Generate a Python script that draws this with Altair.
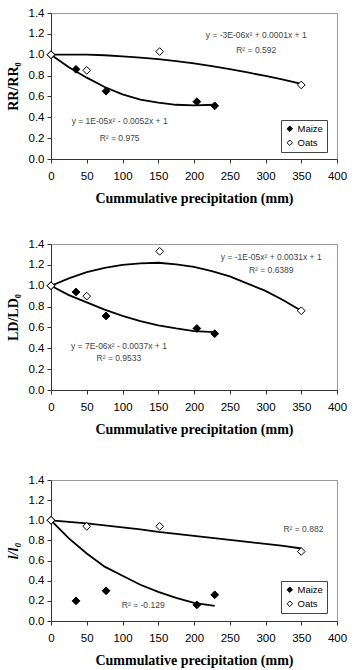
import altair as alt
import pandas as pd

# ---- data ----
x_maize = [0, 35, 77, 204, 229]
x_oats = [0, 50, 152, 350]

rr_maize = [1.0, 0.86, 0.65, 0.55, 0.51]
rr_oats = [1.0, 0.85, 1.03, 0.71]
ld_maize = [1.0, 0.94, 0.71, 0.59, 0.54]
ld_oats = [1.0, 0.90, 1.33, 0.76]
ll_maize = [1.0, 0.20, 0.30, 0.16, 0.26]
ll_oats = [1.0, 0.94, 0.94, 0.69]

# trend-line positions
trend_x_maize = [0, 25, 50, 75, 100, 125, 150, 175, 200, 229]
trend_x_oats = [0, 25, 50, 75, 100, 125, 150, 175, 200, 225, 250, 275, 300, 325, 350]

rr_maize_trend = [1.0, 0.88, 0.78, 0.69, 0.62, 0.57, 0.54, 0.52, 0.515, 0.52]
rr_oats_trend = [1.0, 1.0, 1.0, 0.995, 0.985, 0.972, 0.957, 0.938, 0.916, 0.89,
                 0.862, 0.83, 0.796, 0.76, 0.72]
ld_maize_trend = [1.0, 0.91, 0.84, 0.77, 0.71, 0.66, 0.62, 0.59, 0.565, 0.555]
ld_oats_trend = [1.0, 1.07, 1.13, 1.17, 1.20, 1.215, 1.22, 1.205, 1.18, 1.14,
                 1.09, 1.02, 0.95, 0.86, 0.76]
ll_maize_trend = [1.0, 0.82, 0.67, 0.54, 0.45, 0.36, 0.29, 0.23, 0.18, 0.15]
ll_oats_trend = [1.0, 0.985, 0.97, 0.95, 0.93, 0.91, 0.885, 0.865, 0.845, 0.825,
                 0.805, 0.785, 0.765, 0.745, 0.72]

notes1_label = ["y = -3E-06x² + 0.0001x + 1", "R² = 0.592", "y = 1E-05x² - 0.0052x + 1", "R² = 0.975"]
notes1_x = [287, 287, 96, 96]
notes1_y = [1.19, 1.05, 0.365, 0.20]
notes2_label = ["y = -1E-05x² + 0.0031x + 1", "R² = 0.6389", "y = 7E-06x² - 0.0037x + 1", "R² = 0.9533"]
notes2_x = [308, 308, 95, 95]
notes2_y = [1.28, 1.15, 0.42, 0.31]
notes3_label = ["R² = 0.882", "R² = -0.129"]
notes3_x = [353, 129]
notes3_y = [0.91, 0.16]

x_ticks = [0, 50, 100, 150, 200, 250, 300, 350, 400]
y_ticks = [0, 0.2, 0.4, 0.6, 0.8, 1.0, 1.2, 1.4]
x_title = "Cummulative precipitation (mm)"
crops = ["Maize", "Oats"]


def panel(maize_y, oats_y, maize_trend, oats_trend, ytitle, italic,
          nl, nx, ny, legend_y, height):
    pts = pd.DataFrame({
        "x": x_maize + x_oats,
        "y": maize_y + oats_y,
        "crop": [crops[0]] * len(x_maize) + [crops[1]] * len(x_oats),
    })
    trend = pd.DataFrame({
        "x": trend_x_maize + trend_x_oats,
        "y": maize_trend + oats_trend,
        "crop": [crops[0]] * len(trend_x_maize) + [crops[1]] * len(trend_x_oats),
    })
    notes = pd.DataFrame({"label": nl, "x": nx, "y": ny})

    xenc = alt.X("x:Q", scale=alt.Scale(domain=[0, 400], nice=False),
                 axis=alt.Axis(values=x_ticks, title=x_title, labelOverlap=False,
                               labelFlush=False))
    yaxis_kw = dict(values=y_ticks, format=".1f", title=ytitle, labelOverlap=False,
                    labelFlush=False)
    if italic:
        yaxis_kw["titleFontStyle"] = "italic"
    yenc = alt.Y("y:Q", scale=alt.Scale(domain=[0, 1.4], nice=False),
                 axis=alt.Axis(**yaxis_kw))

    lines = alt.Chart(trend).mark_line(color="black", strokeWidth=1.8).encode(
        x=xenc, y=yenc, detail="crop:N")
    points = alt.Chart(pts).mark_point(
        shape="diamond", size=60, filled=True, stroke="black",
        strokeWidth=1, opacity=1).encode(
        x=xenc, y=yenc,
        fill=alt.Fill("crop:N",
                      scale=alt.Scale(domain=crops, range=["black", "white"]),
                      legend=alt.Legend(
                          title=None, orient="none", legendX=230, legendY=legend_y,
                          strokeColor="#444", fillColor="white", padding=4,
                          labelFont="Liberation Sans", labelFontSize=9.5,
                          symbolType="diamond", symbolStrokeColor="black",
                          symbolStrokeWidth=1, symbolSize=30, rowPadding=3,
                          labelOffset=3)))
    texts = alt.Chart(notes).mark_text(
        font="Liberation Sans", fontSize=8.5, color="#444",
        align="center", baseline="middle").encode(
        x=xenc, y=yenc, text="label:N")
    return alt.layer(lines, texts, points).properties(width=286, height=height)


p1 = panel(rr_maize, rr_oats, rr_maize_trend, rr_oats_trend, "RR/RR₀", False,
           notes1_label, notes1_x, notes1_y, 107, 146)
p2 = panel(ld_maize, ld_oats, ld_maize_trend, ld_oats_trend, "LD/LD₀", False,
           notes2_label, notes2_x, notes2_y, 107, 146)
p3 = panel(ll_maize, ll_oats, ll_maize_trend, ll_oats_trend, "l/l₀", True,
           notes3_label, notes3_x, notes3_y, 101, 141)

top = alt.vconcat(p1, p2, spacing=31)
chart = alt.vconcat(top, p3, spacing=36).resolve_scale(
    fill="independent").resolve_legend(fill="independent").properties(
    padding={"left": 5, "top": 6, "right": 5, "bottom": 0},
    background="white",
).configure_view(stroke="#999", strokeWidth=1).configure_axis(
    grid=False, domainColor="#333", tickColor="#333", tickSize=4,
    labelFont="Liberation Sans", labelFontSize=11.5, labelColor="black",
    titleFont="Liberation Serif", titleFontSize=14, titleFontWeight="bold",
    titleColor="black",
).configure_axisX(labelPadding=7, titlePadding=10).configure_axisY(
    labelPadding=3, titlePadding=8)

chart.save("out.html", embed_options={"renderer": "svg", "actions": False})
